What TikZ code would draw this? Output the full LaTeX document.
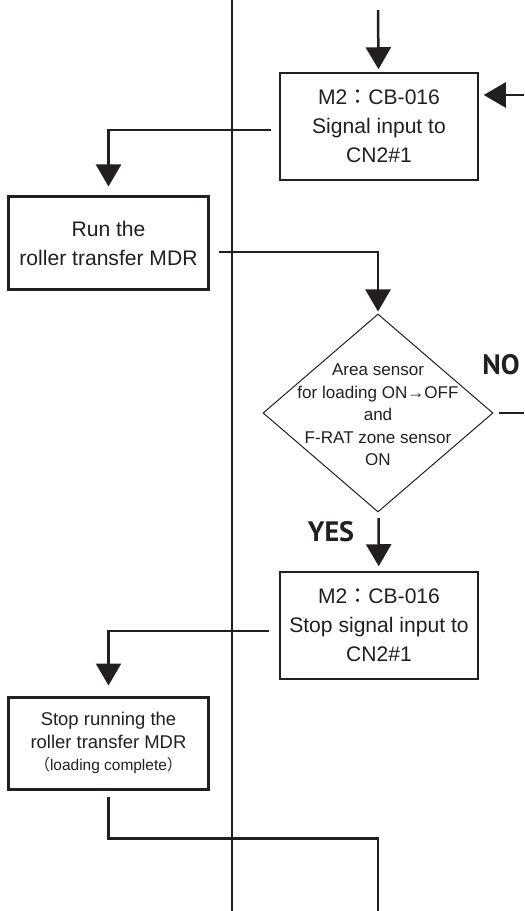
\documentclass[tikz,border=0pt]{standalone}
\usepackage{fontspec}
\setmainfont{Liberation Sans}
\newfontfamily\cjkfont{Noto Sans CJK JP}
\newfontfamily\ansfont{PT Sans}
\usetikzlibrary{arrows.meta,shapes.geometric,calc}
\definecolor{linec}{HTML}{231F20}
\newcommand{\fwcolon}{{\cjkfont ：}}

\begin{document}
\begin{tikzpicture}[x=0.2mm, y=-0.2mm, text=linec,
    sigbox/.style={draw=linec, line width=0.3mm, minimum width=39.6mm, minimum height=21.4mm, inner sep=0, align=center, font=\fontsize{12}{16.5}\selectfont},
    runbox/.style={draw=linec, line width=0.6mm, minimum width=39.8mm, inner sep=0, align=center},
    decision/.style={diamond, draw=linec, line width=0.2mm, minimum width=46mm, minimum height=39.6mm, inner sep=0},
    flow/.style={draw=linec, line width=0.5mm, -{Triangle[width=5mm,length=4.4mm]}},
    wire/.style={draw=linec, line width=0.5mm},
    answer/.style={inner sep=0, font=\ansfont\bfseries\fontsize{16}{16}\selectfont}]
  \useasboundingbox (0,0) rectangle (524,911);
  % lane divider
  \coordinate (divtop) at (232,0);
  \coordinate (divbot) at (232,911);
  \draw[linec, line width=0.4mm] (divtop) -- (divbot);

  \node[sigbox] (sig) at (379,126.5){M2\fwcolon CB-016\\Signal input to\\CN2\#1};
  \node[runbox, minimum height=18.6mm, font=\fontsize{12}{17}\selectfont] (run) at (108.5,243.5){Run the\\roller transfer MDR};
  \node[decision] (dec) at (378,413){};
  \node[align=center, inner sep=0, font=\fontsize{9.7}{12.8}\selectfont] (dectext) at (378,415){Area sensor\\for loading ON→OFF\\and\\F-RAT zone sensor\\ON};
  \node[sigbox] (stopsig) at (379,625.5){M2\fwcolon CB-016\\Stop signal input to\\CN2\#1};
  \node[runbox, minimum height=18.4mm, font=\fontsize{10.5}{13}\selectfont] (stoprun) at (108.5,743){Stop running the\\roller transfer MDR\\{\fontsize{8.8}{11}\selectfont{\cjkfont （}loading complete{\cjkfont ）}}};
  \node[answer] (nolbl) at (501,365){NO};
  \node[answer] (yeslbl) at (331,532){YES};

  % connectors
  \coordinate (entry) at (378,10);
  \coordinate (back) at (524,95);
  \coordinate (noexit) at (524,413);
  \coordinate (exit) at (378,911);
  \draw[flow, shorten >=0.6mm] (entry) -- (sig);
  \draw[flow, shorten >=1mm] (back) -- (back -| sig.east);
  \draw[flow, shorten <=1.6mm, shorten >=1.8mm] ([yshift=-0.7mm]sig.west) -| (run);
  \draw[flow, shorten <=1.8mm, shorten >=0.4mm] ([yshift=-1.7mm]run.east) -| (dec);
  \draw[wire, shorten <=1mm] (dec.east) -- (noexit);
  \draw[flow, shorten <=1.2mm, shorten >=1mm] (dec) -- (stopsig);
  \draw[flow, shorten <=2mm, shorten >=2mm] ([yshift=-1.1mm]stopsig.west) -| (stoprun);
  \draw[wire, shorten <=1.2mm] (stoprun.south) -- ++(0,48) -| (exit);
\end{tikzpicture}
\end{document}
